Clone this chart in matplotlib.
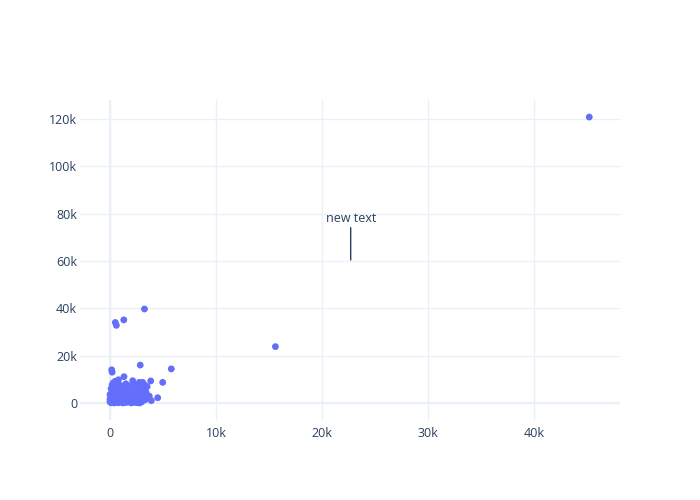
import numpy as np
import matplotlib.pyplot as plt
from matplotlib.ticker import FuncFormatter

# point values, in thousands
x_k = [45.2, 15.6, 3.25, 1.3, 0.5, 0.6, 0.16, 0.2, 2.85, 5.78, 1.32, 2.14, 3.84, 4.97, 3.08, 2.76, 4.5,
       0.3, 0.5, 0.8, 0.2, 0.6, 1.0, 1.5, 1.8, 2.4, 2.9, 3.5, 3.3,
       0.1, 0.4, 0.7, 1.1, 1.4, 1.9, 2.3, 2.7, 3.1, 0.2, 0.6, 0.9, 1.3, 1.7, 2.1, 2.5, 3.0, 3.4,
       0.0, 0.3, 0.5, 0.8, 1.2, 1.6, 2.0, 2.4, 2.8, 3.2, 3.7,
       0.1, 0.4, 0.7, 1.0, 1.4, 1.8, 2.2, 2.6, 3.0, 3.6,
       0.0, 0.2, 0.5, 0.9, 1.3, 1.7, 2.1, 2.5, 2.9, 3.3, 3.9,
       0.0, 0.3, 0.6, 1.0, 1.4, 1.8, 2.2, 2.6, 3.0, 0.1, 0.4, 0.8, 1.2, 1.6, 2.0, 2.4, 2.8]
y_k = [120.8, 23.8, 39.7, 35.1, 34.0, 32.8, 14.0, 13.0, 16.0, 14.4, 11.1, 9.4, 9.3, 8.7, 8.7, 8.7, 2.2,
       8.5, 9.2, 9.8, 7.6, 7.0, 7.4, 8.1, 7.2, 7.6, 7.0, 6.9, 7.5,
       6.0, 5.5, 6.2, 5.8, 6.4, 5.6, 6.1, 5.3, 5.9, 4.8, 4.4, 5.0, 4.6, 4.9, 4.3, 4.7, 4.1, 4.5,
       3.6, 3.9, 3.2, 3.7, 3.3, 3.8, 3.1, 3.5, 3.0, 3.4, 2.9,
       2.6, 2.2, 2.8, 2.4, 2.0, 2.7, 2.3, 1.9, 2.5, 2.1,
       1.6, 1.2, 1.8, 1.4, 1.0, 1.5, 1.1, 1.6, 1.2, 1.3, 1.0,
       0.5, 0.8, 0.3, 0.6, 0.2, 0.7, 0.4, 0.1, 0.5, 0.1, 0.0, 0.1, 0.0, 0.3, 0.0, 0.2, 0.0]
x_vals = np.array(x_k) * 1000
y_vals = np.array(y_k) * 1000

note_text = 'new text'
note_x, note_y = 22700, 60400
x_ticks = [0, 10000, 20000, 30000, 40000]
y_ticks = [0, 20000, 40000, 60000, 80000, 100000, 120000]

plt.rcParams['font.family'] = ['Open Sans', 'DejaVu Sans']
txt_color = '#2a3f5f'
grid_color = '#ebf0f8'

fig = plt.figure(figsize=(7, 5), dpi=100)
ax = fig.add_axes([80/700, 80/500, 540/700, 320/500])

ax.scatter(x_vals, y_vals, s=24, color='#636efa', edgecolors='none', zorder=3)

ax.set_xlim(-2830, 48100)
ax.set_ylim(-7200, 128000)
ax.set_xticks(x_ticks)
ax.set_yticks(y_ticks)
fmt = FuncFormatter(lambda v, p: '0' if v == 0 else '%dk' % int(round(v/1000)))
ax.xaxis.set_major_formatter(fmt)
ax.yaxis.set_major_formatter(fmt)
ax.grid(True, color=grid_color, lw=1, zorder=0)
ax.axhline(0, color=grid_color, lw=1.6, zorder=1)
ax.axvline(0, color=grid_color, lw=1.6, zorder=1)
ax.tick_params(length=0, labelsize=9, labelcolor=txt_color)
ax.tick_params(axis='y', pad=2)
ax.tick_params(axis='x', pad=5)
for s in ax.spines.values():
    s.set_visible(False)

ax.annotate(note_text, xy=(note_x, note_y), xytext=(0, 30), textcoords='offset points',
            ha='center', va='center', fontsize=9, color=txt_color,
            arrowprops=dict(arrowstyle='-', color=txt_color, lw=1, shrinkA=0, shrinkB=0))

fig.savefig('out.png', dpi=100)
